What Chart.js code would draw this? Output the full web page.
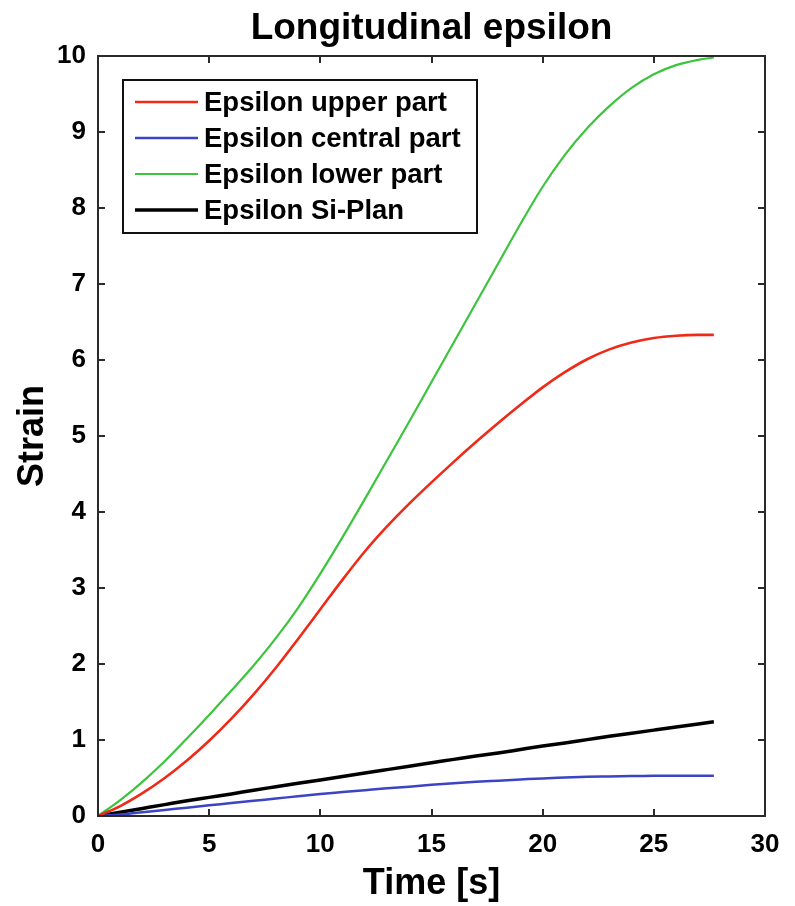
<!DOCTYPE html>
<html>
<head>
<meta charset="utf-8">
<script src="https://cdn.jsdelivr.net/npm/chart.js@4.4.1/dist/chart.umd.min.js"></script>
<style>
  html, body { margin: 0; padding: 0; background: #ffffff; }
  #wrap { width: 795px; height: 906px; }
</style>
</head>
<body>
<div id="wrap"><canvas id="c" width="795" height="906"></canvas></div>
<script>
// Sampling instants [s]
const timeS = [0, 1, 2, 3, 4, 5, 6, 7, 8, 9, 10, 11, 12, 13, 14, 15, 16, 17, 18, 19, 20, 21, 22, 23, 24, 25, 26, 27, 27.7];

// Longitudinal strain per measuring position
const epsUpper   = [0, 0.13, 0.30, 0.50, 0.73, 0.99, 1.28, 1.60, 1.95, 2.33, 2.72, 3.11, 3.48, 3.81, 4.11, 4.39, 4.66, 4.92, 5.17, 5.41, 5.64, 5.84, 6.01, 6.14, 6.23, 6.29, 6.32, 6.33, 6.33];
const epsCentral = [0, 0.02, 0.05, 0.08, 0.11, 0.14, 0.17, 0.20, 0.23, 0.26, 0.29, 0.315, 0.34, 0.365, 0.385, 0.41, 0.43, 0.45, 0.465, 0.48, 0.495, 0.505, 0.515, 0.52, 0.525, 0.53, 0.53, 0.53, 0.53];
const epsLower   = [0, 0.21, 0.45, 0.72, 1.02, 1.33, 1.65, 1.98, 2.34, 2.74, 3.19, 3.67, 4.17, 4.68, 5.19, 5.71, 6.23, 6.75, 7.27, 7.79, 8.28, 8.70, 9.05, 9.34, 9.58, 9.76, 9.88, 9.95, 9.98];
const epsSiPlan  = [0, 0.05, 0.10, 0.15, 0.20, 0.245, 0.29, 0.34, 0.385, 0.43, 0.475, 0.52, 0.565, 0.61, 0.655, 0.70, 0.745, 0.79, 0.83, 0.875, 0.92, 0.96, 1.005, 1.05, 1.09, 1.13, 1.17, 1.21, 1.24];

const seriesNames = ['Epsilon upper part', 'Epsilon central part', 'Epsilon lower part', 'Epsilon Si-Plan'];
const seriesColors = ['#ee2a18', '#3a44c4', '#3cc43c', '#000000'];
const seriesWidths = [2.6, 2.5, 2.2, 3.5];

const xTicks = [0, 5, 10, 15, 20, 25, 30];
const yTicks = [0, 1, 2, 3, 4, 5, 6, 7, 8, 9, 10];

const chartTitle = 'Longitudinal epsilon';
const FONT = '"Liberation Sans", Arial, Helvetica, sans-serif';

const toPoints = (ys) => timeS.map((t, i) => ({ x: t, y: ys[i] }));
const allSeries = [epsUpper, epsCentral, epsLower, epsSiPlan];

// Box frame, inward tick marks, title and boxed legend
const framePlugin = {
  id: 'frame',
  afterDraw(chart) {
    const { ctx, chartArea: a, scales } = chart;
    ctx.save();
    ctx.strokeStyle = '#2a2a2a';
    ctx.lineWidth = 2;
    ctx.strokeRect(a.left, a.top, a.right - a.left, a.bottom - a.top);

    const tl = 7;
    ctx.beginPath();
    xTicks.forEach(v => {
      const px = Math.round(scales.x.getPixelForValue(v));
      ctx.moveTo(px, a.bottom); ctx.lineTo(px, a.bottom - tl);
      ctx.moveTo(px, a.top); ctx.lineTo(px, a.top + tl);
    });
    yTicks.forEach(v => {
      const py = Math.round(scales.y.getPixelForValue(v));
      ctx.moveTo(a.left, py); ctx.lineTo(a.left + tl, py);
      ctx.moveTo(a.right, py); ctx.lineTo(a.right - tl, py);
    });
    ctx.stroke();

    // title
    ctx.fillStyle = '#000';
    ctx.font = 'bold 37px ' + FONT;
    ctx.textAlign = 'center';
    ctx.textBaseline = 'middle';
    ctx.fillText(chartTitle, (a.left + a.right) / 2, 29);

    // legend
    const lx = 123, ly = 80, lw = 354, lh = 153;
    ctx.fillStyle = '#fff';
    ctx.fillRect(lx, ly, lw, lh);
    ctx.strokeStyle = '#111';
    ctx.lineWidth = 2;
    ctx.strokeRect(lx, ly, lw, lh);
    ctx.font = 'bold 27.5px ' + FONT;
    ctx.textAlign = 'left';
    ctx.textBaseline = 'middle';
    chart.data.datasets.forEach((ds, i) => {
      const yy = 102 + i * 36;
      ctx.strokeStyle = ds.borderColor;
      ctx.lineWidth = ds.borderWidth;
      ctx.beginPath();
      ctx.moveTo(135, yy); ctx.lineTo(198, yy);
      ctx.stroke();
      ctx.fillStyle = '#000';
      ctx.fillText(ds.label, 204, yy + 1);
    });
    ctx.restore();
  }
};

new Chart(document.getElementById('c'), {
  type: 'line',
  data: {
    datasets: allSeries.map((ys, i) => ({
      label: seriesNames[i],
      data: toPoints(ys),
      borderColor: seriesColors[i],
      borderWidth: seriesWidths[i],
      pointRadius: 0,
      fill: false,
      cubicInterpolationMode: 'monotone'
    }))
  },
  options: {
    responsive: false,
    animation: false,
    devicePixelRatio: 1,
    layout: { padding: { top: 56, right: 30, left: 0, bottom: 0 } },
    plugins: { legend: { display: false }, tooltip: { enabled: false }, title: { display: false } },
    scales: {
      x: {
        type: 'linear', min: 0, max: 30,
        afterBuildTicks: (s) => { s.ticks = xTicks.map(v => ({ value: v })); },
        afterFit: (s) => { s.height = 90; },
        grid: { display: false, drawTicks: false },
        border: { display: false },
        ticks: { color: '#000', font: { family: FONT, size: 26, weight: 'bold' }, padding: 13, maxRotation: 0 },
        title: { display: true, text: 'Time [s]', color: '#000', font: { family: FONT, size: 36, weight: 'bold' }, padding: { top: 6, bottom: 0 } }
      },
      y: {
        type: 'linear', min: 0, max: 10,
        afterBuildTicks: (s) => { s.ticks = yTicks.map(v => ({ value: v })); },
        afterFit: (s) => { s.width = 98; },
        grid: { display: false, drawTicks: false },
        border: { display: false },
        ticks: { color: '#000', font: { family: FONT, size: 26, weight: 'bold' }, padding: 12 },
        title: { display: true, text: 'Strain', color: '#000', font: { family: FONT, size: 36, weight: 'bold' }, padding: { top: 11, bottom: 0 } }
      }
    }
  },
  plugins: [framePlugin]
});
</script>
</body>
</html>
